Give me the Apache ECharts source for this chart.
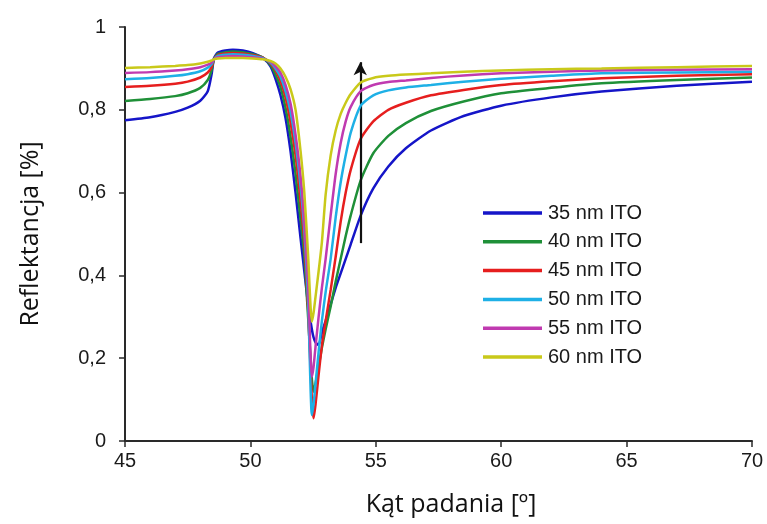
<!DOCTYPE html>
<html>
<head>
<meta charset="utf-8">
<script src="https://cdn.jsdelivr.net/npm/echarts@6/dist/echarts.min.js"></script>
<style>
  html, body { margin: 0; padding: 0; background: #fff; }
  #chart { width: 767px; height: 524px; }
</style>
</head>
<body>
<div id="chart"></div>
<script>
// Angle of incidence (degrees) shared by all reflectance curves
const angles = [45, 46, 47, 47.5, 48, 48.3, 48.45, 48.55, 48.7, 49, 49.3, 49.7, 50.1, 50.5, 50.8,
  51.0, 51.2, 51.4, 51.6, 51.8, 52.0, 52.15, 52.3, 52.45, 52.52, 52.6, 52.72, 52.85, 53.0, 53.2,
  53.4, 53.6, 53.8, 54.0, 54.4, 54.9, 55.5, 56.2, 57.2, 58.5, 60, 62, 64, 67, 70];

// Reflectance for each ITO layer thickness
const ito35 = [0.775, 0.782, 0.795, 0.805, 0.822, 0.845, 0.885, 0.925, 0.938, 0.943, 0.945, 0.943, 0.937, 0.925, 0.905,
  0.875, 0.835, 0.78, 0.70, 0.60, 0.49, 0.41, 0.33, 0.27, 0.25, 0.238, 0.232, 0.262, 0.29, 0.33,
  0.37, 0.405, 0.44, 0.475, 0.545, 0.61, 0.663, 0.707, 0.75, 0.785, 0.81, 0.83, 0.844, 0.858, 0.868];
const ito40 = [0.821, 0.826, 0.833, 0.84, 0.853, 0.872, 0.895, 0.923, 0.935, 0.939, 0.941, 0.939, 0.934, 0.926, 0.908,
  0.885, 0.855, 0.805, 0.735, 0.645, 0.535, 0.445, 0.30, 0.15, 0.119, 0.14, 0.18, 0.225, 0.27, 0.325,
  0.385, 0.44, 0.495, 0.545, 0.63, 0.695, 0.737, 0.768, 0.797, 0.82, 0.84, 0.853, 0.864, 0.872, 0.878];
const ito45 = [0.855, 0.858, 0.863, 0.868, 0.878, 0.89, 0.903, 0.922, 0.932, 0.936, 0.937, 0.936, 0.932, 0.926, 0.912,
  0.895, 0.87, 0.83, 0.77, 0.69, 0.58, 0.48, 0.32, 0.10, 0.055, 0.09, 0.16, 0.23, 0.29, 0.365,
  0.445, 0.53, 0.6, 0.655, 0.73, 0.772, 0.8, 0.817, 0.835, 0.848, 0.86, 0.869, 0.876, 0.882, 0.886];
const ito50 = [0.874, 0.877, 0.882, 0.886, 0.893, 0.902, 0.91, 0.922, 0.93, 0.933, 0.934, 0.933, 0.93, 0.925, 0.914,
  0.90, 0.88, 0.845, 0.795, 0.72, 0.615, 0.51, 0.34, 0.063, 0.09, 0.14, 0.215, 0.29, 0.36, 0.44,
  0.54, 0.625, 0.69, 0.745, 0.81, 0.835, 0.847, 0.854, 0.86, 0.868, 0.875, 0.882, 0.888, 0.89, 0.892];
const ito55 = [0.889, 0.891, 0.895, 0.898, 0.903, 0.909, 0.914, 0.922, 0.927, 0.929, 0.93, 0.929, 0.927, 0.923, 0.916,
  0.905, 0.89, 0.86, 0.815, 0.74, 0.64, 0.53, 0.38, 0.155, 0.18, 0.23, 0.30, 0.37, 0.44, 0.545,
  0.645, 0.72, 0.772, 0.807, 0.845, 0.86, 0.867, 0.871, 0.877, 0.883, 0.888, 0.892, 0.895, 0.897, 0.898];
const ito60 = [0.901, 0.903, 0.906, 0.908, 0.912, 0.916, 0.919, 0.922, 0.924, 0.925, 0.925, 0.925, 0.924, 0.922, 0.918,
  0.912, 0.90, 0.88, 0.85, 0.80, 0.70, 0.60, 0.45, 0.288, 0.31, 0.35, 0.41, 0.48, 0.595, 0.69,
  0.75, 0.79, 0.817, 0.838, 0.866, 0.877, 0.882, 0.885, 0.888, 0.892, 0.895, 0.898, 0.90, 0.903, 0.906];

const seriesNames = ['35 nm ITO', '40 nm ITO', '45 nm ITO', '50 nm ITO', '55 nm ITO', '60 nm ITO'];
const seriesValues = [ito35, ito40, ito45, ito50, ito55, ito60];
const seriesColors = ['#1515c8', '#1f9038', '#e61e1e', '#1eb0e6', '#c03ab0', '#c9c91a'];

// Arrow showing the trend with growing thickness: [angle, from, to]
const arrowAngle = 54.38;
const arrowFrom = 0.478;
const arrowTo = 0.915;

const chart = echarts.init(document.getElementById('chart'), null, { renderer: 'canvas' });

const series = seriesNames.map((name, i) => {
  const s = {
    name: name,
    type: 'line',
    data: angles.map((a, k) => [a, seriesValues[i][k]]),
    showSymbol: false,
    symbol: 'none',
    smooth: 0.2,
    lineStyle: { color: seriesColors[i], width: 2.5 },
    itemStyle: { color: seriesColors[i] },
    animation: false,
    z: 2 + i
  };
  if (i === seriesNames.length - 1) {
    s.markLine = {
      silent: true,
      animation: false,
      symbol: ['none', 'arrow'],
      symbolSize: [10, 13],
      label: { show: false },
      lineStyle: { color: '#111', width: 2.2, type: 'solid' },
      emphasis: { disabled: true },
      data: [[{ coord: [arrowAngle, arrowFrom] }, { coord: [arrowAngle, arrowTo] }]]
    };
  }
  return s;
});

const axisColor = '#2a2a2a';

chart.setOption({
  backgroundColor: '#ffffff',
  animation: false,
  grid: { left: 125, right: 15, top: 27, bottom: 83, containLabel: false },
  legend: {
    orient: 'vertical',
    left: 478,
    top: 198,
    icon: 'rect',
    itemWidth: 59,
    itemHeight: 3.5,
    itemGap: 8.8,
    textStyle: {
      fontFamily: '"Liberation Sans", Arial, sans-serif',
      fontSize: 20,
      lineHeight: 20,
      color: '#1a1a1a',
      padding: [0, 0, 0, 1]
    },
    data: seriesNames.map((n, i) => ({ name: n, itemStyle: { color: seriesColors[i] } }))
  },
  xAxis: {
    type: 'value',
    min: 45,
    max: 70,
    interval: 5,
    name: 'Kąt padania [º]',
    nameLocation: 'middle',
    nameGap: 51,
    nameTextStyle: {
      fontFamily: '"Open Sans", sans-serif',
      fontSize: 25,
      color: '#111',
      padding: [0, 0, 0, 25]
    },
    axisLine: { show: true, lineStyle: { color: axisColor, width: 2 } },
    axisTick: { show: true, inside: false, length: 6, lineStyle: { color: axisColor, width: 1.5 } },
    axisLabel: {
      margin: 10,
      fontFamily: '"Liberation Sans", Arial, sans-serif',
      fontSize: 20,
      color: '#1a1a1a'
    },
    splitLine: { show: false }
  },
  yAxis: {
    type: 'value',
    min: 0,
    max: 1,
    interval: 0.2,
    name: 'Reflektancja [%]',
    nameLocation: 'middle',
    nameGap: 82,
    nameTextStyle: {
      fontFamily: '"Open Sans", sans-serif',
      fontSize: 25,
      color: '#111'
    },
    axisLine: { show: true, lineStyle: { color: axisColor, width: 2 } },
    axisTick: { show: true, inside: false, length: 6, lineStyle: { color: axisColor, width: 1.5 } },
    axisLabel: {
      margin: 19,
      fontFamily: '"Liberation Sans", Arial, sans-serif',
      fontSize: 20,
      color: '#1a1a1a',
      formatter: v => (Number.isInteger(v) ? String(v) : v.toFixed(1).replace('.', ','))
    },
    splitLine: { show: false }
  },
  series: series
});
</script>
</body>
</html>
